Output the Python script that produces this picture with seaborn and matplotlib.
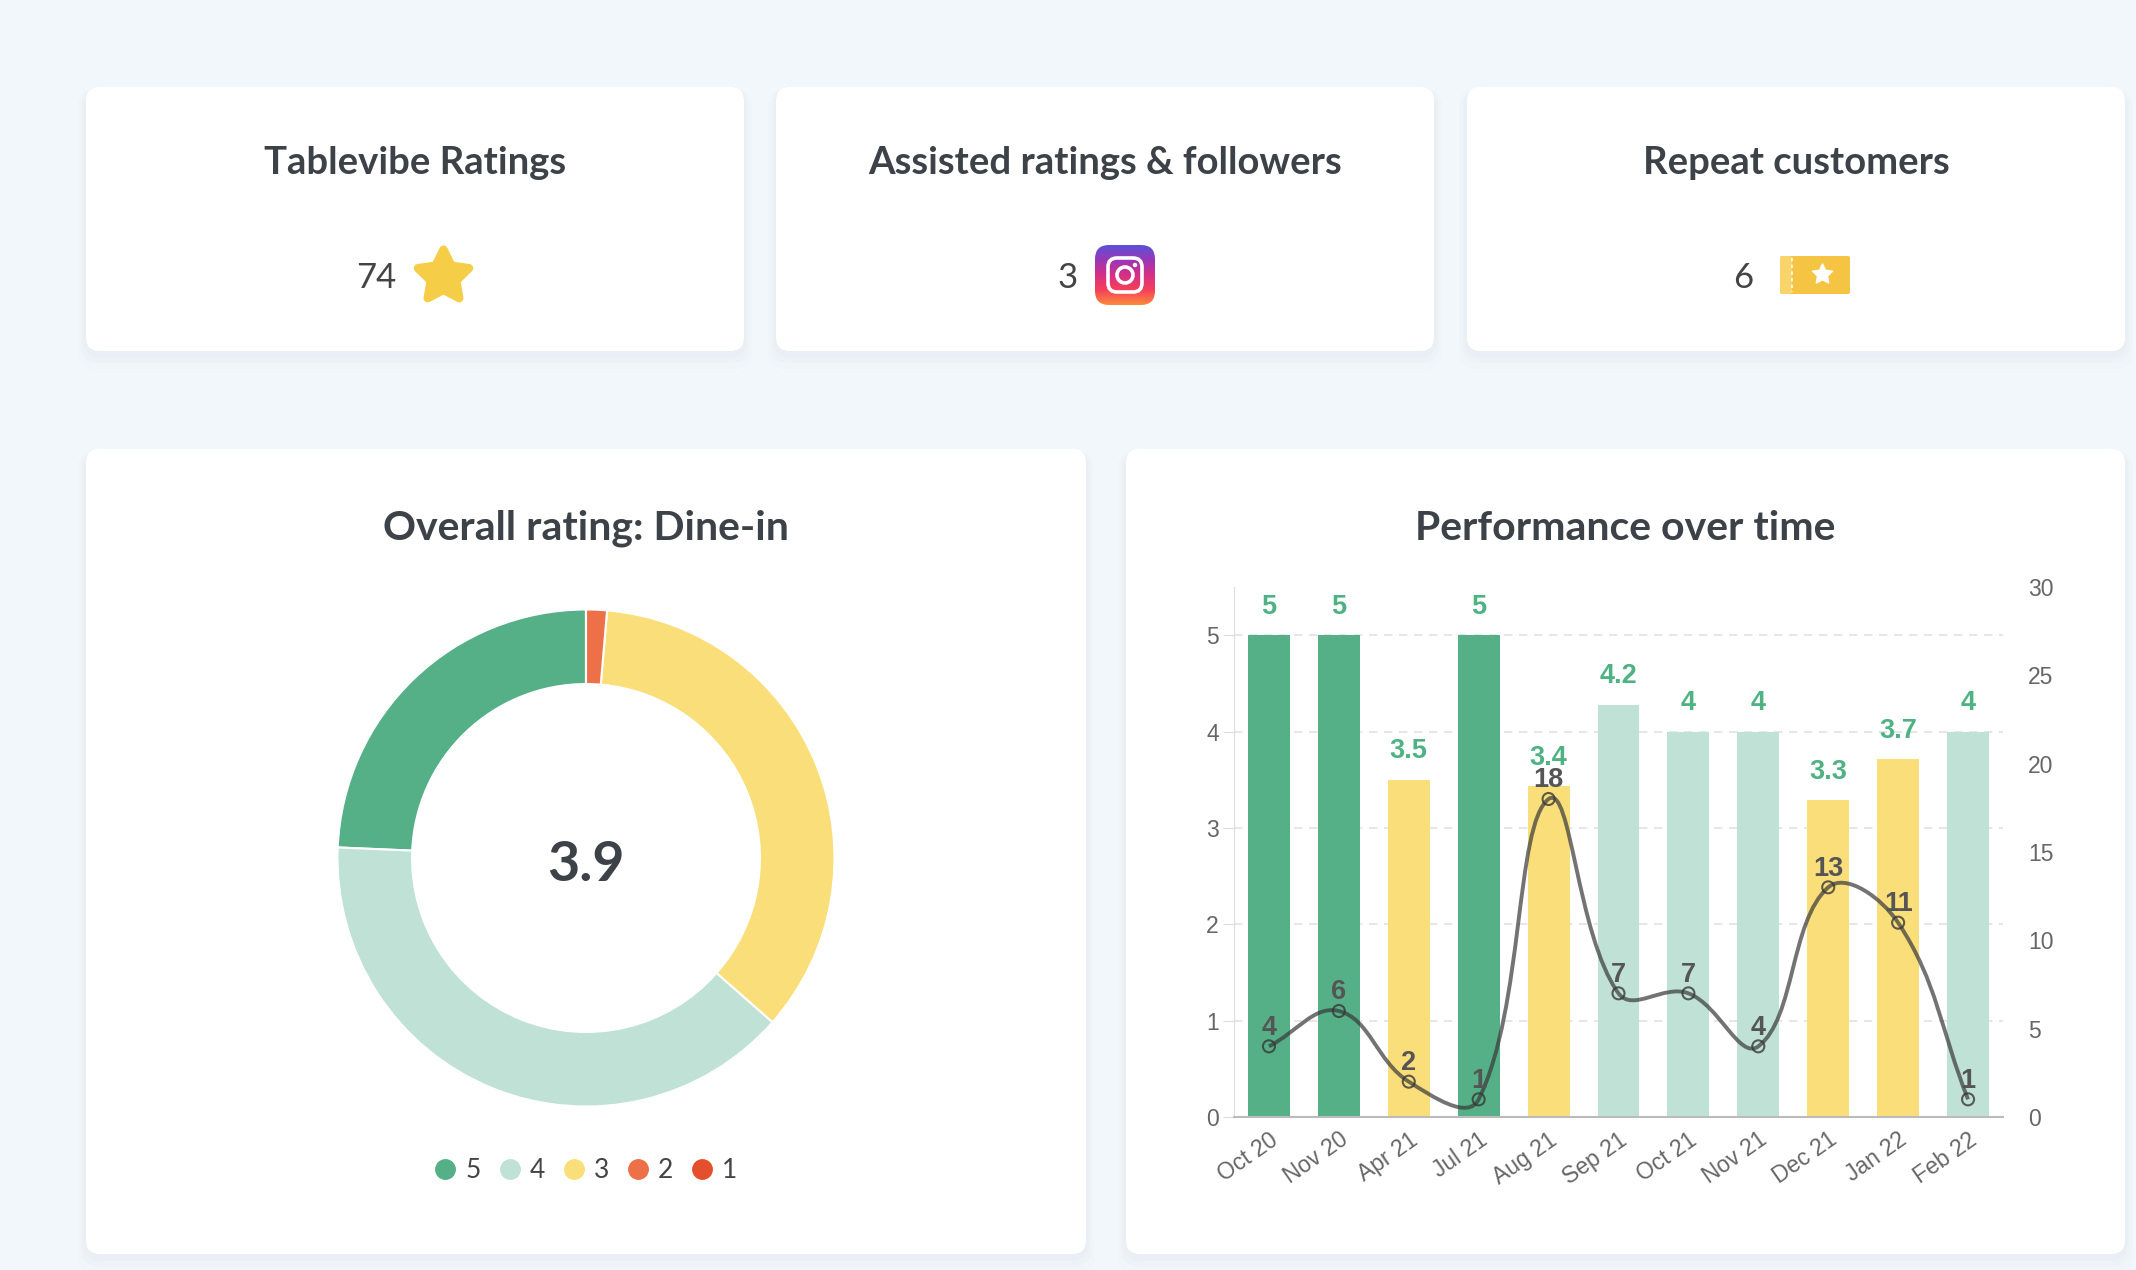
import numpy as np
import matplotlib
matplotlib.use("Agg")
import matplotlib.pyplot as plt
import seaborn as sns
from matplotlib.patches import FancyBboxPatch, Circle, PathPatch
from matplotlib.path import Path
from matplotlib.lines import Line2D
from matplotlib.colors import to_rgb

W, H = 2136, 1270

# summary cards
card_titles = ["Tablevibe Ratings", "Assisted ratings & followers", "Repeat customers"]
card_values = [74, 3, 6]

# donut: number of ratings per star
stars = ["5", "4", "3", "2", "1"]
star_counts = [18, 29, 26, 1, 0]
overall = "3.9"

# performance over time
months = ["Oct 20", "Nov 20", "Apr 21", "Jul 21", "Aug 21", "Sep 21",
          "Oct 21", "Nov 21", "Dec 21", "Jan 22", "Feb 22"]
avg_rating = [5, 5, 3.5, 5, 3.43, 4.28, 4, 4, 3.29, 3.71, 4]
rating_labels = ["5", "5", "3.5", "5", "3.4", "4.2", "4", "4", "3.3", "3.7", "4"]
n_reviews = [4, 6, 2, 1, 18, 7, 7, 4, 13, 11, 1]

BG = "#f2f7fb"
DARK = "#3c4248"
GREY = "#666666"
star_colors = ["#55b088", "#c0e1d6", "#f9de7a", "#ee7049", "#e5502c"]
HEAD = ["Lato", "DejaVu Sans"]

plt.rcParams["font.family"] = ["Liberation Sans", "DejaVu Sans"]

fig = plt.figure(figsize=(W / 100, H / 100), dpi=100)
fig.patch.set_facecolor(BG)

bg = fig.add_axes([0, 0, 1, 1])
bg.set_xlim(0, W)
bg.set_ylim(H, 0)
bg.axis("off")
bg.set_zorder(0)


def card(x0, y0, x1, y1):
    for k, a in [(16, 0.025), (10, 0.035), (5, 0.045)]:
        bg.add_patch(FancyBboxPatch((x0 - k / 2, y0 + 2), x1 - x0 + k, y1 - y0 + k,
                                    boxstyle="round,pad=0,rounding_size=18",
                                    fc="#9fb4cc", ec="none", alpha=a))
    bg.add_patch(FancyBboxPatch((x0, y0), x1 - x0, y1 - y0,
                                boxstyle="round,pad=0,rounding_size=14",
                                fc="white", ec="none"))


top_cards = [(86, 744), (776, 1434), (1467, 2125)]
for (x0, x1), title in zip(top_cards, card_titles):
    card(x0, 87, x1, 351)
    bg.text((x0 + x1) / 2, 163, title, ha="center", va="center", fontsize=27.5,
            fontweight="bold", color=DARK, family=HEAD)

card(86, 449, 1086, 1254)
card(1126, 449, 2125, 1254)

# top card values + icons
num_x = [376, 1068, 1743]
for x, v in zip(num_x, card_values):
    bg.text(x, 278, str(v), ha="center", va="center", fontsize=25,
            fontweight="normal", color="#444444", family=HEAD)

# star icon
star = bg.scatter([443], [276], marker=(5, 1, 0), s=1500, color="#f5cd47",
                  edgecolors="#f5cd47", linewidths=6, zorder=3)
star.set_joinstyle("round")

# instagram icon
ix0, iy0, isz = 1095, 245, 60
grad_cols = ["#5b51d8", "#9b36b7", "#d62f85", "#f4405a", "#fb8a3c"]
t = np.linspace(0, 1, 120)
stops = np.linspace(0, 1, len(grad_cols))
rgb = np.array([to_rgb(c) for c in grad_cols])
col = np.stack([np.interp(t, stops, rgb[:, j]) for j in range(3)], axis=1)
img = np.repeat(col[:, None, :], 120, axis=1)
im = bg.imshow(img, extent=(ix0, ix0 + isz, iy0 + isz, iy0), origin="upper",
               zorder=3, interpolation="bilinear")
clip = FancyBboxPatch((ix0, iy0), isz, isz, boxstyle="round,pad=0,rounding_size=14",
                      fc="none", ec="none", transform=bg.transData)
bg.add_patch(clip)
im.set_clip_path(clip)
bg.add_patch(FancyBboxPatch((ix0 + 13, iy0 + 13), isz - 26, isz - 26,
                            boxstyle="round,pad=0,rounding_size=9",
                            fc="none", ec="white", lw=2.6, zorder=4))
bg.add_patch(Circle((ix0 + isz / 2, iy0 + isz / 2), 8, fc="none", ec="white",
                    lw=2.6, zorder=4))
bg.add_patch(Circle((ix0 + isz - 20, iy0 + 20), 2.2, fc="white", ec="none", zorder=4))
bg.set_xlim(0, W)
bg.set_ylim(H, 0)

# ticket icon
bg.add_patch(FancyBboxPatch((1780, 256), 70, 38, boxstyle="round,pad=0,rounding_size=2",
                            fc="#f6c443", ec="none", zorder=3))
bg.add_patch(FancyBboxPatch((1780, 256), 12, 38, boxstyle="round,pad=0,rounding_size=2",
                            fc="#f9d46a", ec="none", zorder=3))
bg.plot([1792, 1792], [258, 292], color="white", lw=1.2, ls=(0, (2, 2)), zorder=4)
bg.scatter([1822], [274], marker=(5, 1, 0), s=230, color="white", zorder=4)

# donut
bg.text(586, 528, "Overall rating: Dine-in", ha="center", va="center", fontsize=29.5,
        fontweight="bold", color=DARK, family=HEAD)
R = 251
cx, cy = 586, 858
axp = fig.add_axes([(cx - R) / W, 1 - (cy + R) / H, 2 * R / W, 2 * R / H])
axp.set_zorder(2)
axp.pie(star_counts, colors=star_colors, startangle=90, counterclock=True,
        wedgeprops=dict(width=0.30, edgecolor="white", linewidth=1.5))
axp.set_xlim(-1.01, 1.01)
axp.set_ylim(-1.01, 1.01)
axp.text(0, -0.03, overall, ha="center", va="center", fontsize=40, fontweight="bold",
         color=DARK, family=HEAD)

handles = [Line2D([], [], marker="o", linestyle="", markersize=14,
                  markerfacecolor=c, markeredgecolor=c) for c in star_colors]
fig.legend(handles, stars, loc="center", bbox_to_anchor=(cx / W, 1 - 1171 / H),
           ncol=5, frameon=False, handlelength=0.8, handletextpad=0.35,
           columnspacing=0.7, labelcolor="#444444",
           prop={"family": HEAD, "size": 19})

# performance over time
bg.text(1625, 528, "Performance over time", ha="center", va="center", fontsize=29.5,
        fontweight="bold", color=DARK, family=HEAD)

L, Rt, B, T = 1234, 2003, 1117, 587
ax1 = fig.add_axes([L / W, 1 - B / H, (Rt - L) / W, (B - T) / H])
ax1.set_zorder(2)
ax1.set_facecolor("none")

tiers = ["5" if v >= 4.5 else ("4" if v >= 4 else "3") for v in avg_rating]
sns.barplot(x=months, y=avg_rating, hue=tiers, order=months,
            palette={"5": star_colors[0], "4": star_colors[1], "3": star_colors[2]},
            dodge=False, width=0.6, saturation=1, legend=False, ax=ax1, zorder=2)
ax1.set_xlim(-0.5, len(months) - 0.5)
ax1.set_ylim(0, 5.5)
ax1.set_yticks(range(0, 6))
ax1.set_xlabel("")
ax1.set_ylabel("")
ax1.yaxis.grid(True, linestyle=(0, (5, 4)), color="#e2e2e2", lw=1.2)
ax1.xaxis.grid(False)
ax1.set_axisbelow(True)
for s in ["top", "right"]:
    ax1.spines[s].set_visible(False)
ax1.spines["left"].set_color("#dddddd")
ax1.spines["bottom"].set_color("#bbbbbb")
ax1.spines["bottom"].set_linewidth(1.5)
ax1.tick_params(axis="y", length=8, color="#dddddd", labelsize=16.5, labelcolor=GREY, pad=3)
ax1.tick_params(axis="x", length=0, labelsize=16.5, labelcolor=GREY, pad=8)
plt.setp(ax1.get_xticklabels(), rotation=35, ha="right", rotation_mode="anchor")

for i, (v, lab) in enumerate(zip(avg_rating, rating_labels)):
    ax1.annotate(lab, (i, v), xytext=(0, 11), textcoords="offset points",
                 ha="center", va="bottom", fontsize=19.5, fontweight="bold",
                 color="#4fb283")

ax2 = ax1.twinx()
ax2.set_ylim(0, 30)
ax2.set_yticks(range(0, 31, 5))
ax2.set_xlim(-0.5, len(months) - 0.5)
for s in ax2.spines.values():
    s.set_visible(False)
ax2.tick_params(axis="y", length=0, labelsize=16.5, labelcolor=GREY, pad=18)
ax2.grid(False)

# smooth line through review counts (bezier control points as in chart.js, tension 0.4)
xs = np.arange(len(months))
pts = ax2.transData.transform(np.column_stack([xs, n_reviews]))
n = len(pts)
verts = [pts[0]]
codes = [Path.MOVETO]
cp_prev, cp_next = np.zeros_like(pts), np.zeros_like(pts)
for i in range(n):
    p0, p1, p2 = pts[max(i - 1, 0)], pts[i], pts[min(i + 1, n - 1)]
    d01 = np.hypot(*(p1 - p0))
    d12 = np.hypot(*(p2 - p1))
    tot = d01 + d12
    fa = 0.4 * d01 / tot if tot else 0
    fb = 0.4 * d12 / tot if tot else 0
    cp_prev[i] = p1 - fa * (p2 - p0)
    cp_next[i] = p1 + fb * (p2 - p0)
for i in range(1, n):
    verts += [cp_next[i - 1], cp_prev[i], pts[i]]
    codes += [Path.CURVE4] * 3
verts = ax2.transData.inverted().transform(np.array(verts))
ax2.add_patch(PathPatch(Path(verts, codes), fc="none", ec=(0.22, 0.22, 0.22, 0.7),
                        lw=2.8, zorder=3))
ax2.scatter(xs, n_reviews, s=75, facecolors="none", edgecolors=(0.22, 0.22, 0.22, 0.8),
            linewidths=1.5, zorder=4)
for i, v in enumerate(n_reviews):
    ax2.annotate(str(v), (i, v), xytext=(0, 4), textcoords="offset points",
                 ha="center", va="bottom", fontsize=19.5, fontweight="bold",
                 color="#555555", zorder=5)

fig.savefig("out.png", dpi=100, facecolor=BG)
